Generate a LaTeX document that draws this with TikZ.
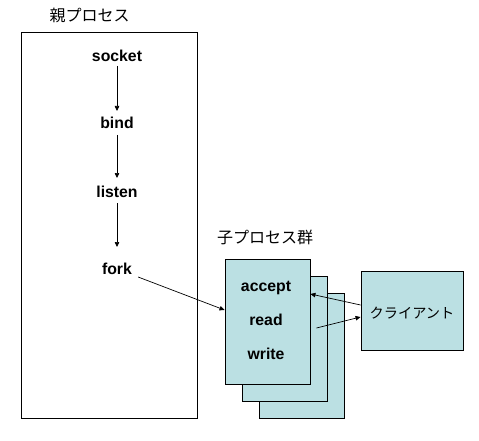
\documentclass[tikz,border=0pt]{standalone}
\usepackage{fontspec}
\setmainfont{Liberation Sans}
\newfontfamily\jpfont{Noto Sans CJK JP}
\usetikzlibrary{arrows.meta}
\definecolor{procfill}{RGB}{187,224,227}
\tikzset{
  lbl/.style={font=\fontsize{15.8}{15.8}\selectfont\bfseries, inner sep=0pt, text height=11.5pt, text depth=0pt},
  jlbl/.style={font=\jpfont\fontsize{16}{16}\selectfont, inner sep=0pt},
  parentbox/.style={draw=black, line width=0.9pt, fill=white, inner sep=0pt},
  childbox/.style={draw=black, line width=0.9pt, fill=procfill, inner sep=0pt, minimum width=85pt, minimum height=125pt},
  clientbox/.style={draw=black, line width=0.9pt, fill=procfill, inner sep=0pt, minimum width=102pt, minimum height=79pt},
  arr/.style={draw=black, line width=0.7pt, -{Triangle[length=5pt,width=4.5pt]}}
}
\begin{document}
\begin{tikzpicture}[x=1pt,y=-1pt]
\useasboundingbox (0,0) rectangle (479,441);
% parent
\node[jlbl] (ptitle) at (89.5,15) {親プロセス};
\node[parentbox, minimum width=176pt, minimum height=386pt] (parent) at (109,225) {};
\node[lbl] (socket) at (117,55.5) {socket};
\node[lbl] (bind) at (117,123) {bind};
\node[lbl] (listen) at (117,191.5) {listen};
\node[lbl] (fork) at (117,269) {fork};
\draw[arr, shorten <=10.5pt, shorten >=12pt] (socket.center) -- (bind.center);
\draw[arr, shorten <=12pt, shorten >=13.5pt] (bind.center) -- (listen.center);
\draw[arr, shorten <=11.5pt, shorten >=22pt] (listen.center) -- (fork.center);
% children
\node[jlbl] (ctitle) at (265,237) {子プロセス群};
\node[childbox] (c3) at (301.5,355.5) {};
\node[childbox] (c2) at (284.5,338.5) {};
\node[childbox] (c1) at (267.5,321.5) {};
\node[lbl] (accept) at (266,286) {accept};
\node[lbl] (read) at (266,320) {read};
\node[lbl] (write) at (266,354) {write};
% client
\node[clientbox] (client) at (412,310.5) {};
\node[jlbl, font=\jpfont\fontsize{14.2}{14.2}\selectfont] (clabel) at (412,313) {クライアント};
% connectors
\coordinate (f0) at ([xshift=6pt,yshift=-8pt]fork.east);
\draw[arr] (f0) -- ([yshift=11.5pt]c1.west);
\draw[arr] ([yshift=5.5pt]client.west) -- ([yshift=27.5pt]c1.east);
\draw[arr] ([xshift=6pt,yshift=-6.5pt]c1.east) -- ([yshift=-6.5pt]client.west);
\end{tikzpicture}
\end{document}
